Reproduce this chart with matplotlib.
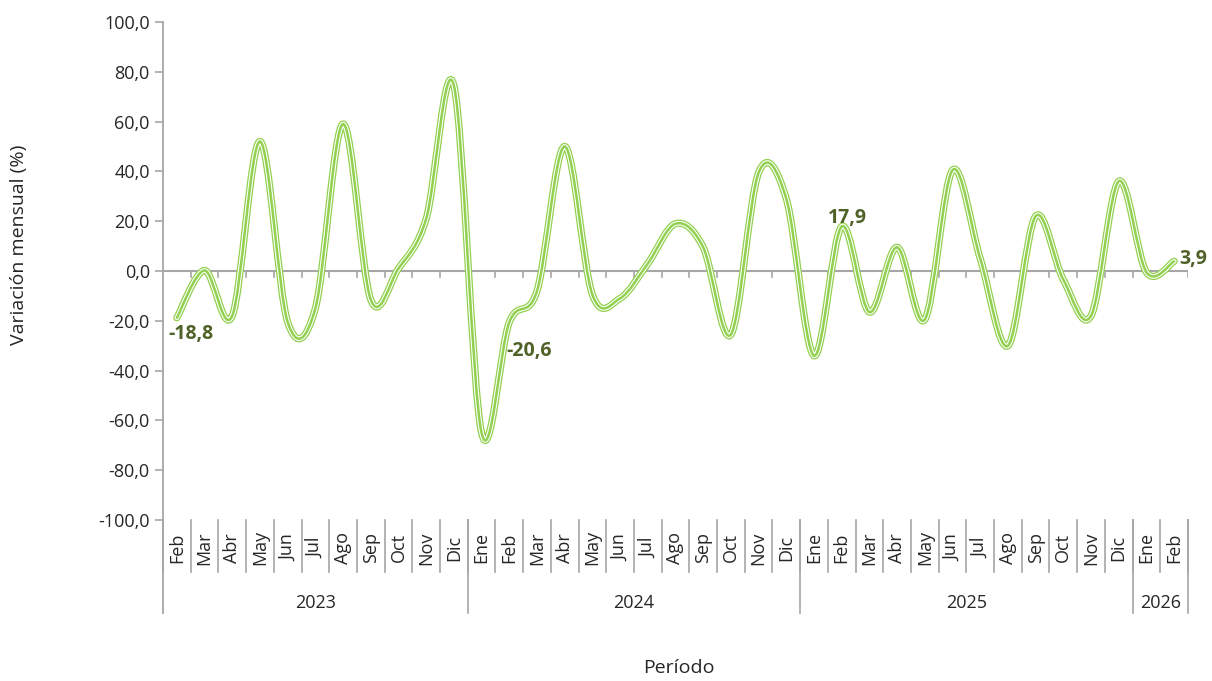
import matplotlib.pyplot as plt
import numpy as np
from matplotlib.path import Path
from matplotlib.patches import PathPatch

plt.rcParams['font.family'] = ['Open Sans', 'DejaVu Sans']

# data
months = ["Feb", "Mar", "Abr", "May", "Jun", "Jul", "Ago", "Sep", "Oct", "Nov", "Dic",
          "Ene", "Feb", "Mar", "Abr", "May", "Jun", "Jul", "Ago", "Sep", "Oct", "Nov", "Dic",
          "Ene", "Feb", "Mar", "Abr", "May", "Jun", "Jul", "Ago", "Sep", "Oct", "Nov", "Dic",
          "Ene", "Feb"]
years = ["2023", "2024", "2025", "2026"]
year_counts = [11, 12, 12, 2]
values = [-18.8, 0.2, -18.0, 52.0, -20.5, -15.0, 59.0, -11.5, 1.0, 21.0, 74.5,
          -65.0, -20.6, -8.0, 50.0, -9.5, -11.0, 3.0, 19.0, 9.5, -25.5, 39.5, 29.0,
          -34.0, 17.9, -16.5, 9.5, -19.5, 40.5, 5.0, -30.0, 22.0, -3.5, -18.0, 36.0,
          -0.5, 3.9]
labelled = {0: (-18.8, "-18,8"), 12: (-20.6, "-20,6"), 24: (17.9, "17,9"), 36: (3.9, "3,9")}

green = "#92D050"
label_col = "#4F6228"
grey = "#A6A6A6"
txt = "#262626"

fig = plt.figure(figsize=(12.12, 6.81), dpi=100)
ax = fig.add_axes([163/1212, 1-520/681, (1188-163)/1212, 498/681])

x = np.arange(len(values))
y = np.array(values)

# smoothed line like excel (bezier through the points)
xp = np.concatenate([[x[0]], x, [x[-1]]])
yp = np.concatenate([[y[0]], y, [y[-1]]])
verts = [(x[0], y[0])]
codes = [Path.MOVETO]
for i in range(len(x) - 1):
    j = i + 1
    c1 = (xp[j] + (xp[j+1] - xp[j-1]) / 6, yp[j] + (yp[j+1] - yp[j-1]) / 6)
    c2 = (xp[j+1] - (xp[j+2] - xp[j]) / 6, yp[j+1] - (yp[j+2] - yp[j]) / 6)
    verts += [c1, c2, (x[j], y[j])]
    codes += [Path.CURVE4] * 3
path = Path(verts, codes)
for lw, col in [(5.2, green), (3.4, "white"), (1.8, green)]:
    ax.add_patch(PathPatch(path, fill=False, edgecolor=col, lw=lw, capstyle='round', zorder=3))

ax.set_xlim(-0.5, len(values) - 0.5)
ax.set_ylim(-100, 100)
ticks = np.arange(-100, 101, 20)
ax.set_yticks(ticks)
ax.set_yticklabels([f"{v:.1f}".replace(".", ",") for v in ticks])
ax.tick_params(axis='y', length=6, width=1.2, colors=grey, labelcolor=txt, labelsize=13)
ax.set_xticks([])
for s in ["top", "right", "bottom"]:
    ax.spines[s].set_visible(False)
ax.spines["left"].set_color(grey)
ax.spines["left"].set_linewidth(1.3)

# zero line with tick marks
ax.axhline(0, color=grey, lw=1.5, zorder=2)
for b in np.arange(0.5, len(values)):
    ax.plot([b, b], [0, -2.6], color=grey, lw=1.2, zorder=2)

# category axis: months and years
tr = ax.get_xaxis_transform()
for i, m in enumerate(months):
    ax.text(i, -0.056, m, rotation=90, ha='center', va='center', fontsize=13,
            color=txt, transform=tr)
for b in np.arange(-0.5, len(values)):
    ax.plot([b, b], [0, -0.1044], color=grey, lw=1.2, transform=tr, clip_on=False)
start = -0.5
for yr, n in zip(years, year_counts):
    end = start + n
    ax.plot([end, end], [0, -0.1867], color=grey, lw=1.2, transform=tr, clip_on=False)
    ax.text((start + end) / 2, -0.1667, yr, ha='center', va='center', fontsize=13,
            color=txt, transform=tr)
    start = end
ax.plot([-0.5, -0.5], [0, -0.1867], color=grey, lw=1.3, transform=tr, clip_on=False)

# data labels
offs = {0: (-0.3, -6.5), 12: (-0.1, -11.5), 24: (-0.5, 3.5), 36: (0.2, 0.8)}
for i, (v, t) in labelled.items():
    dx, dy = offs[i]
    ax.annotate(t, (i, v), xytext=(i + dx, v + dy), ha='left', va='center',
                fontsize=14, fontweight='bold', color=label_col, annotation_clip=False)

fig.text(19/1212, 1-245/681, "Variación mensual (%)", rotation=90, ha='center', va='center',
         fontsize=14, color=txt)
fig.text(679/1212, 1-668/681, "Período", ha='center', va='center', fontsize=14, color=txt)

fig.savefig("out.png", dpi=100)
